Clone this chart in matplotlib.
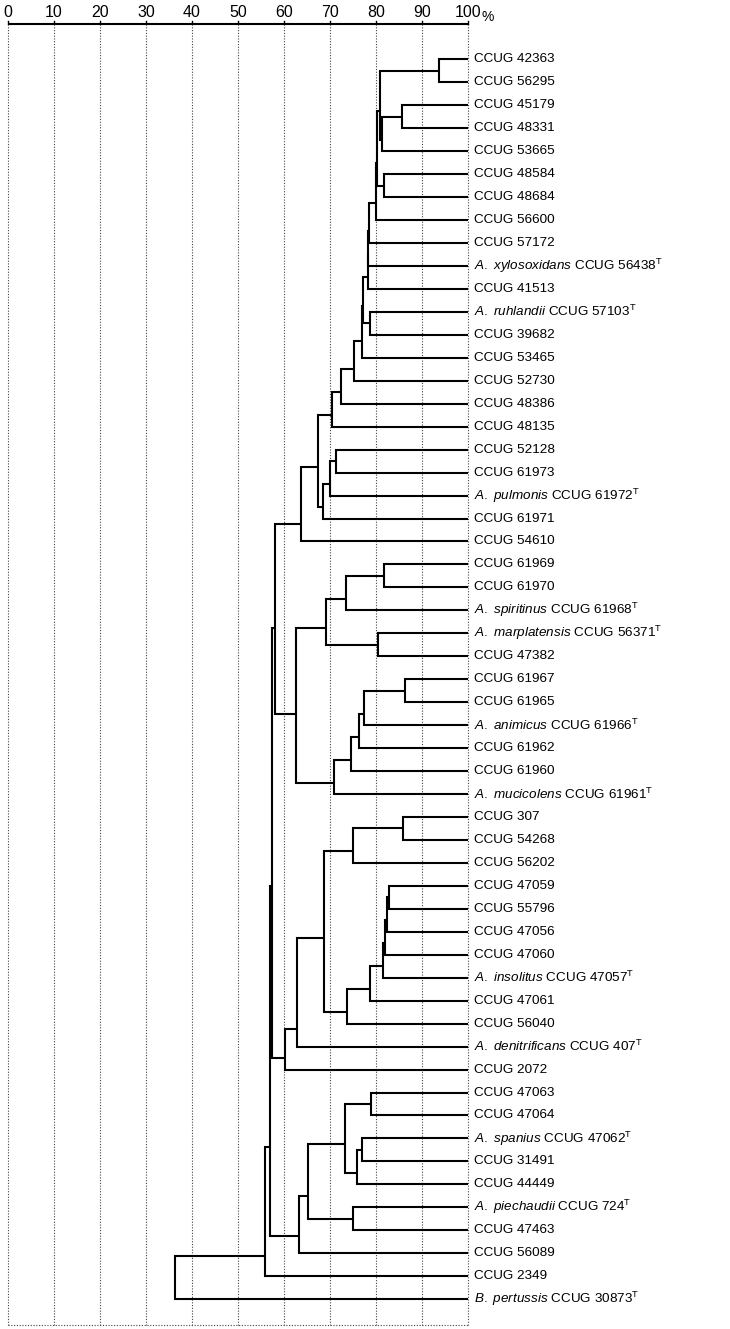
import matplotlib.pyplot as plt

plt.rcParams['font.family'] = ['Liberation Sans', 'DejaVu Sans']
plt.rcParams['mathtext.fontset'] = 'custom'
plt.rcParams['mathtext.rm'] = 'Liberation Sans'
plt.rcParams['mathtext.it'] = 'Liberation Sans:italic'

# leaf labels, top to bottom
strains = [
    "CCUG 42363", "CCUG 56295", "CCUG 45179", "CCUG 48331", "CCUG 53665",
    "CCUG 48584", "CCUG 48684", "CCUG 56600", "CCUG 57172", "CCUG 56438",
    "CCUG 41513", "CCUG 57103", "CCUG 39682", "CCUG 53465", "CCUG 52730",
    "CCUG 48386", "CCUG 48135", "CCUG 52128", "CCUG 61973", "CCUG 61972",
    "CCUG 61971", "CCUG 54610", "CCUG 61969", "CCUG 61970", "CCUG 61968",
    "CCUG 56371", "CCUG 47382", "CCUG 61967", "CCUG 61965", "CCUG 61966",
    "CCUG 61962", "CCUG 61960", "CCUG 61961", "CCUG 307", "CCUG 54268",
    "CCUG 56202", "CCUG 47059", "CCUG 55796", "CCUG 47056", "CCUG 47060",
    "CCUG 47057", "CCUG 47061", "CCUG 56040", "CCUG 407", "CCUG 2072",
    "CCUG 47063", "CCUG 47064", "CCUG 47062", "CCUG 31491", "CCUG 44449",
    "CCUG 724", "CCUG 47463", "CCUG 56089", "CCUG 2349", "CCUG 30873",
]
# species name for type strains (leaf index -> name)
species = {
    9: "A. xylosoxidans", 11: "A. ruhlandii", 19: "A. pulmonis",
    24: "A. spiritinus", 25: "A. marplatensis", 29: "A. animicus",
    32: "A. mucicolens", 40: "A. insolitus", 43: "A. denitrificans",
    47: "A. spanius", 50: "A. piechaudii", 54: "B. pertussis",
}

# merges: (child a, child b, similarity %), new node id = n_leaves + row
merges = [
    (0, 1, 93.6), (2, 3, 85.7), (56, 4, 81.2), (55, 57, 80.9),
    (5, 6, 81.7), (58, 59, 80.2), (60, 7, 79.9), (61, 8, 78.4),
    (62, 9, 78.3), (63, 10, 78.2), (11, 12, 78.8), (64, 65, 77.2),
    (66, 13, 76.9), (67, 14, 75.2), (68, 15, 72.4), (69, 16, 70.4),
    (17, 18, 71.3), (71, 19, 70.0), (72, 20, 68.4), (70, 73, 67.3),
    (74, 21, 63.8), (22, 23, 81.8), (76, 24, 73.4), (25, 26, 80.4),
    (77, 78, 69.1), (27, 28, 86.3), (80, 29, 77.4), (81, 30, 76.4),
    (82, 31, 74.6), (83, 32, 70.9), (79, 84, 62.5), (75, 85, 58.0),
    (33, 34, 85.9), (87, 35, 74.9), (36, 37, 82.9), (89, 38, 82.3),
    (90, 39, 82.0), (91, 40, 81.6), (92, 41, 78.8), (93, 42, 73.8),
    (88, 94, 68.8), (95, 43, 62.9), (96, 44, 60.2), (86, 97, 57.4),
    (45, 46, 78.9), (47, 48, 76.9), (100, 49, 75.9), (99, 101, 73.3),
    (50, 51, 75.1), (102, 103, 65.3), (104, 52, 63.3), (98, 105, 56.9),
    (106, 53, 55.9), (107, 54, 36.3),
]

scale_ticks = list(range(0, 101, 10))

n = len(strains)
fig = plt.figure(figsize=(7.3, 13.29), dpi=100)
ax = fig.add_axes([0, 0, 1, 1])
ax.set_xlim(-8 / 4.6, 722 / 4.6)
ax.set_ylim(1269.7 / 22.96, -59.3 / 22.96)
ax.axis('off')

y_axis = -1.537
y_bottom = 55.12

# scale bar on top
ax.plot([0, 100], [y_axis, y_axis], color='black', lw=1.5, solid_capstyle='butt')
for t in scale_ticks:
    ax.plot([t, t], [y_axis, y_axis - 0.12], color='black', lw=1.0)
    ax.plot([t, t], [y_axis, y_bottom], color='#444444', lw=0.8,
            linestyle=(0, (1, 1.5)), zorder=0)
    ax.text(t, -2.05, str(t), ha='center', va='center', fontsize=11.5)
ax.text(102.9, -1.85, "%", ha='left', va='center', fontsize=10)
ax.plot([0, 100], [y_bottom, y_bottom], color='#444444', lw=0.8,
        linestyle=(0, (1, 1.5)), zorder=0)

# dendrogram
ypos = {i: float(i) for i in range(n)}
last = {i: i for i in range(n)}
xpos = {i: 100.0 for i in range(n)}
for k, (a, b, s) in enumerate(merges):
    node = n + k
    ax.plot([xpos[a], s, s, xpos[b]], [ypos[a], ypos[a], ypos[b], ypos[b]],
            color='black', lw=1.5, solid_joinstyle='miter', solid_capstyle='butt')
    ypos[node] = (ypos[last[a]] + ypos[b]) / 2
    last[node] = b
    xpos[node] = s

# leaf labels
for i, lab in enumerate(strains):
    if i in species:
        sp = species[i].replace(' ', r'\ ')
        txt = r"$\mathit{" + sp + r"}$ " + lab + r"$^{\mathrm{T}}$"
    else:
        txt = lab
    ax.text(101.3, i, txt, ha='left', va='center', fontsize=9.7)

fig.savefig('out.png', dpi=100)
